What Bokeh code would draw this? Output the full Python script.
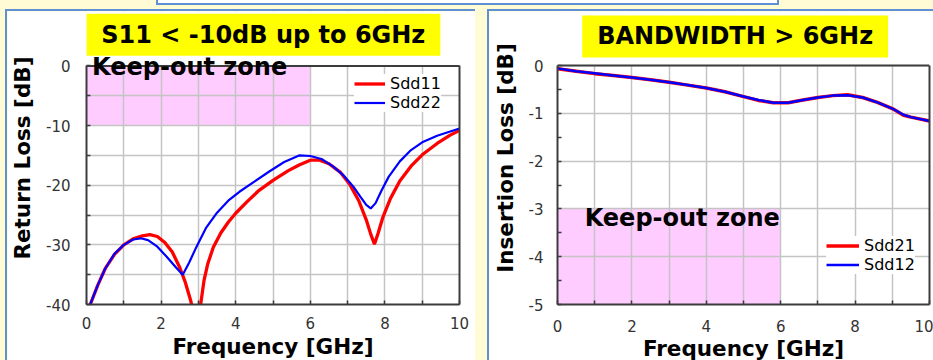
from bokeh.plotting import figure
from bokeh.models import (Range1d, FixedTicker, Label, Legend, LegendItem, Span,
                          LinearAxis, Spacer, Row, Column)
from bokeh.embed import file_html
from bokeh.resources import INLINE

# ---------------- data ----------------
# Return loss panel
freq_sdd11 = [0.10, 0.30, 0.50, 0.75, 1.00, 1.25, 1.50, 1.70, 1.90, 2.10, 2.30, 2.50,
              2.65, 2.80, 2.90, 2.96, 3.02, 3.06, 3.15, 3.25, 3.40, 3.60, 3.80, 4.00,
              4.30, 4.60, 5.00, 5.40, 5.70, 6.00, 6.25, 6.50, 6.80, 7.05, 7.30, 7.50,
              7.62, 7.72, 7.82, 7.95, 8.15, 8.40, 8.70, 9.00, 9.40, 9.75, 10.00]
sdd11 = [-40.0, -36.8, -34.0, -31.6, -30.0, -29.0, -28.5, -28.3, -28.6, -29.6, -31.2, -33.8,
         -36.3, -39.5, -43.0, -46.0, -43.0, -40.0, -36.0, -33.2, -30.4, -28.0, -26.2, -24.7,
         -22.8, -21.0, -19.2, -17.6, -16.6, -15.8, -15.8, -16.4, -17.8, -19.8, -22.6, -25.8,
         -28.2, -29.9, -28.0, -25.3, -22.2, -19.3, -16.8, -14.9, -13.0, -11.6, -10.8]

freq_sdd22 = [0.10, 0.30, 0.50, 0.75, 1.00, 1.25, 1.45, 1.65, 1.90, 2.15, 2.40, 2.58,
              2.75, 2.95, 3.20, 3.50, 3.80, 4.10, 4.50, 4.90, 5.30, 5.70, 6.00, 6.30,
              6.60, 6.90, 7.15, 7.35, 7.50, 7.62, 7.75, 7.90, 8.10, 8.40, 8.70, 9.00,
              9.40, 9.75, 10.00]
sdd22 = [-40.0, -36.8, -34.0, -31.5, -30.0, -29.1, -28.9, -29.2, -30.3, -32.0, -33.8, -35.0,
         -33.0, -30.3, -27.2, -24.6, -22.6, -21.1, -19.4, -17.7, -16.1, -15.0, -15.1, -15.6,
         -16.8, -18.4, -20.2, -22.0, -23.3, -23.9, -23.0, -21.0, -18.6, -16.0, -14.1, -12.8,
         -11.7, -11.0, -10.5]

# Insertion loss panel
freq_il = [0.0, 0.5, 1.0, 1.5, 2.0, 2.5, 3.0, 3.5, 4.0, 4.5, 5.0, 5.4, 5.8, 6.2,
           6.6, 7.0, 7.4, 7.8, 8.2, 8.6, 9.0, 9.3, 9.5, 10.0]
sdd21 = [-0.07, -0.12, -0.17, -0.21, -0.25, -0.30, -0.35, -0.41, -0.47, -0.55, -0.65, -0.73,
         -0.78, -0.78, -0.72, -0.67, -0.63, -0.61, -0.67, -0.77, -0.90, -1.04, -1.08, -1.16]
sdd12 = [-0.06, -0.12, -0.16, -0.21, -0.25, -0.30, -0.35, -0.41, -0.47, -0.55, -0.65, -0.72,
         -0.78, -0.78, -0.72, -0.67, -0.63, -0.62, -0.67, -0.77, -0.90, -1.03, -1.08, -1.16]

# keep-out zones
rl_zone_x = [0, 6]
rl_zone_y = [-10, 0]
il_zone_x = [0, 6]
il_zone_y = [-5, -3]

# ticks
x_ticks = [0, 2, 4, 6, 8, 10]
x_tick_labels = ["0", "2", "4", "6", "8", "10"]
x_minor = [1, 3, 5, 7, 9]
x_grid = [0, 1, 2, 3, 4, 5, 6, 7, 8, 9, 10]

rl_y_ticks = [-40, -30, -20, -10, 0]
rl_y_labels = ["-40", "-30", "-20", "-10", "0"]
rl_y_minor = [-35, -25, -15, -5]
rl_y_grid = [-40, -35, -30, -25, -20, -15, -10, -5, 0]

il_y_ticks = [-5, -4, -3, -2, -1, 0]
il_y_labels = ["-5", "-4", "-3", "-2", "-1", "0"]
il_y_minor = [-4.5, -3.5, -2.5, -1.5, -0.5]
il_y_grid = [-5, -4, -3, -2, -1, 0]

# ---------------- style ----------------
FONT = "DejaVu Sans"
BLUE_BORDER = "#5F8FD5"
BG_YELLOW = "#FFFBD4"
PINK = "#FFCCFF"
GRID = "#C4C4C4"
FRAME = "#3C3C3C"
X_MIN, X_MAX = 0, 10
FIG_H = 360   # panels run past the bottom of the window, as in the original


def make_panel(width, height, mbl, mbr, mbb, yr, ytop, yticks, ylabels, yminor, ygrid,
               ylabel, x_label_standoff, x_major_standoff, y_major_standoff, y_label_standoff):
    # The frame reaches the top of the canvas; the visible plot box is drawn at the
    # axis limits with bounded axes and a span, so annotations above it are not clipped.
    p = figure(width=width, height=height, x_range=Range1d(X_MIN, X_MAX),
               y_range=Range1d(yr[0], ytop), output_backend="svg", toolbar_location=None,
               min_border_left=mbl, min_border_right=mbr, min_border_top=0,
               min_border_bottom=mbb, background_fill_color="white",
               border_fill_color="white", outline_line_color=None)
    p.xaxis.ticker = FixedTicker(ticks=x_ticks, minor_ticks=x_minor)
    p.xaxis.major_label_overrides = {t: s for t, s in zip(x_ticks, x_tick_labels)}
    p.yaxis.ticker = FixedTicker(ticks=yticks, minor_ticks=yminor)
    p.yaxis.major_label_overrides = {t: s for t, s in zip(yticks, ylabels)}
    p.yaxis.bounds = yr
    p.xgrid.ticker = FixedTicker(ticks=x_grid)
    p.ygrid.ticker = FixedTicker(ticks=ygrid)
    for g in (p.xgrid, p.ygrid):
        g.grid_line_color = GRID
        g.grid_line_width = 1.5
    for ax in (p.xaxis, p.yaxis):
        ax.axis_line_color = FRAME
        ax.axis_line_width = 2
        ax.major_tick_in = 4
        ax.major_tick_out = 0
        ax.minor_tick_in = 4
        ax.minor_tick_out = 0
        ax.major_tick_line_color = FRAME
        ax.minor_tick_line_color = FRAME
        ax.major_tick_line_width = 1.5
        ax.minor_tick_line_width = 1.5
        ax.major_label_text_font = FONT
        ax.major_label_text_font_size = "15px"
        ax.major_label_text_color = "#333333"
        ax.axis_label_text_font = FONT
        ax.axis_label_text_font_size = "21.5px"
        ax.axis_label_text_font_style = "bold"
        ax.axis_label_text_color = "black"
    p.xaxis.axis_label = "Frequency [GHz]"
    p.yaxis.axis_label = ylabel
    p.xaxis.major_label_standoff = x_major_standoff
    p.xaxis.axis_label_standoff = x_label_standoff
    p.yaxis.major_label_standoff = y_major_standoff
    p.yaxis.axis_label_standoff = y_label_standoff
    # right edge of the plot box
    p.add_layout(LinearAxis(ticker=FixedTicker(ticks=[]), bounds=yr, axis_line_color=FRAME,
                            axis_line_width=2, major_tick_in=0, major_tick_out=0,
                            minor_tick_in=0, minor_tick_out=0, major_label_standoff=0,
                            major_label_text_font_size="0px"), "right")
    # white band above the top limit hides the grid there
    p.quad(left=X_MIN, right=X_MAX, bottom=yr[1], top=ytop, fill_color="white",
           line_color=None)
    return p


def finish_panel(p, yr):
    # top edge of the plot box
    p.add_layout(Span(location=yr[1], dimension="width", line_color=FRAME, line_width=2))


def title_box(p, x, y, text):
    p.add_layout(Label(x=x, y=y, text=text, text_font=FONT, text_font_style="bold",
                       text_font_size="24px", text_color="black", text_align="center",
                       text_baseline="middle", background_fill_color="#FFFF00",
                       background_fill_alpha=1.0, padding=(15, 7)))


def zone_label(p, x, y):
    p.add_layout(Label(x=x, y=y, text="Keep-out zone", text_font=FONT,
                       text_font_style="bold", text_font_size="24px", text_color="black",
                       text_align="left", text_baseline="middle"))


def add_legend(p, items, loc, gw):
    leg = Legend(items=items, location=loc, background_fill_color="white",
                 background_fill_alpha=1.0, border_line_color=None, padding=2, margin=0,
                 spacing=0, label_standoff=5, glyph_width=gw, glyph_height=17,
                 label_height=17, label_text_font=FONT, label_text_font_size="16px",
                 label_text_color="black")
    p.add_layout(leg)


# ---------------- left panel: return loss ----------------
RL_RANGE = (-40, 0)
p1 = make_panel(468, FIG_H, 76, 16, 64, RL_RANGE, 9.13, rl_y_ticks, rl_y_labels,
                rl_y_minor, rl_y_grid, "Return Loss [dB]", 2, 12, 16, 8)
p1.quad(left=rl_zone_x[0], right=rl_zone_x[1], bottom=rl_zone_y[0], top=rl_zone_y[1],
        fill_color=PINK, line_color=None, level="image")
r11 = p1.line(freq_sdd11, sdd11, line_color="#FF0000", line_width=3.3)
r22 = p1.line(freq_sdd22, sdd22, line_color="#0000FF", line_width=2.2)
finish_panel(p1, RL_RANGE)
add_legend(p1, [LegendItem(label="Sdd11", renderers=[r11]),
                LegendItem(label="Sdd22", renderers=[r22])], (268, 192), 31)
title_box(p1, 4.74, 5.23, "S11 < -10dB up to 6GHz")
zone_label(p1, 0.15, -0.25)

# ---------------- right panel: insertion loss ----------------
IL_RANGE = (-5, 0)
p2 = make_panel(444, FIG_H, 63, 4, 67, IL_RANGE, 1.13, il_y_ticks, il_y_labels,
                il_y_minor, il_y_grid, "Insertion Loss [dB]", 1, 15, 14, 8)
p2.quad(left=il_zone_x[0], right=il_zone_x[1], bottom=il_zone_y[0], top=il_zone_y[1],
        fill_color=PINK, line_color=None, level="image")
r21 = p2.line(freq_il, sdd21, line_color="#FF0000", line_width=3.5)
r12 = p2.line(freq_il, sdd12, line_color="#0000FF", line_width=2.5)
finish_panel(p2, IL_RANGE)
add_legend(p2, [LegendItem(label="Sdd21", renderers=[r21]),
                LegendItem(label="Sdd12", renderers=[r12])], (269, 30), 33)
title_box(p2, 4.775, 0.607, "BANDWIDTH > 6GHz")
zone_label(p2, 0.73, -3.19)

# ---------------- page layout ----------------
def bar(x, y, w, h, c):
    return f"linear-gradient({c},{c}) {x}px {y}px / {w}px {h}px no-repeat"

bg = ", ".join([
    bar(158, 0, 619, 3, "#FFFFFF"),
    bar(156, 0, 623, 5, BLUE_BORDER),
    bar(5, 9, 470, 2, BLUE_BORDER),
    bar(5, 9, 2, 351, BLUE_BORDER),
    bar(487, 9, 446, 2, BLUE_BORDER),
    bar(487, 9, 2, 351, BLUE_BORDER),
    BG_YELLOW,
])

row = Row(children=[Spacer(width=7, height=FIG_H), p1, Spacer(width=14, height=FIG_H), p2],
          spacing=0)
page = Column(children=[Spacer(width=933, height=11), row], spacing=0, width=933,
              height=360, styles={"background": bg, "overflow": "hidden"})

open("out.html", "w").write(file_html(page, INLINE))
